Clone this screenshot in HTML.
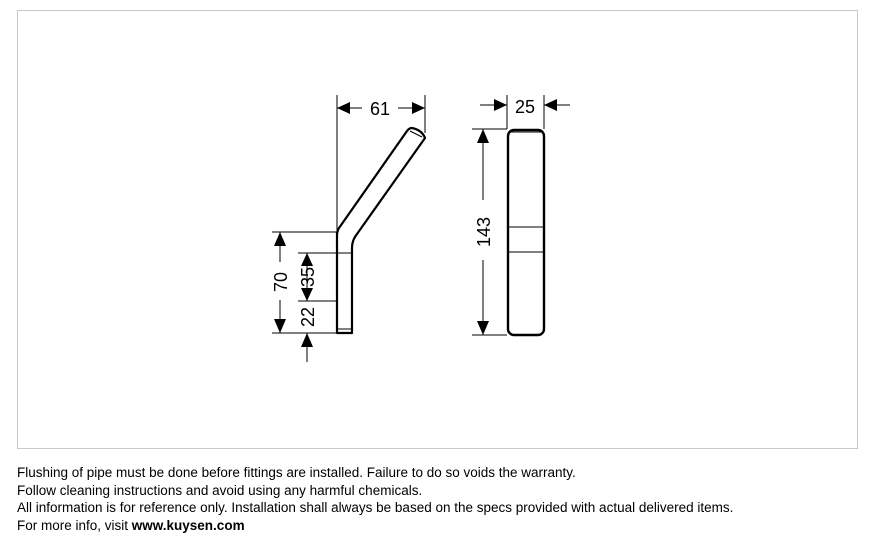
<!DOCTYPE html>
<html><head><style>
body{margin:0;background:#fff;width:869px;height:538px;overflow:hidden;position:relative;font-family:"Liberation Sans",sans-serif}
.t{position:absolute;left:17px;font-size:13.5px;color:#000;white-space:nowrap}
</style></head><body>
<svg width="869" height="538" style="position:absolute;left:0;top:0">
<rect x="17.5" y="10.5" width="840" height="438" fill="none" stroke="#c8c8c8" stroke-width="1"/>
<g stroke="#000" fill="none" stroke-width="1">
<line x1="337" y1="95" x2="337" y2="232"/>
<line x1="425" y1="95" x2="425" y2="133"/>
<line x1="337" y1="108" x2="362" y2="108"/>
<line x1="398" y1="108" x2="425" y2="108"/>
<line x1="272" y1="232" x2="337" y2="232"/>
<line x1="272" y1="333" x2="337" y2="333"/>
<line x1="298" y1="253" x2="337" y2="253"/>
<line x1="298" y1="301" x2="337" y2="301"/>
<line x1="280" y1="232" x2="280" y2="262"/>
<line x1="280" y1="300" x2="280" y2="333"/>
<line x1="307" y1="333" x2="307" y2="362"/>
<line x1="307" y1="253" x2="307" y2="301"/>
<line x1="507" y1="95" x2="507" y2="129"/>
<line x1="544" y1="95" x2="544" y2="129"/>
<line x1="480" y1="105" x2="507" y2="105"/>
<line x1="544" y1="105" x2="570" y2="105"/>
<line x1="472" y1="129" x2="507" y2="129"/>
<line x1="472" y1="335" x2="507" y2="335"/>
<line x1="483" y1="129" x2="483" y2="200"/>
<line x1="483" y1="260" x2="483" y2="335"/>
</g>
<g fill="#000">
<polygon points="337,108 350,102 350,114"/>
<polygon points="425,108 412,102 412,114"/>
<polygon points="280,232 274,246 286,246"/>
<polygon points="280,333 274,319 286,319"/>
<polygon points="307,333 301,347 313,347"/>
<polygon points="307,253 301,266 313,266"/>
<polygon points="307,301 301,288 313,288"/>
<polygon points="507,105 494,99 494,111"/>
<polygon points="544,105 557,99 557,111"/>
<polygon points="483,129 477,143 489,143"/>
<polygon points="483,335 477,321 489,321"/>
</g>
<g stroke="#000" fill="none" stroke-width="2.2" stroke-linejoin="round">
<path d="M337,232 L337,333 L352,333 L352,248 Q352,240 357,234 L425,138 Q422,130 412,128 Q409,128 407,131 L339,228 Q337,231 337,236"/>
</g>
<g stroke="#000" fill="none" stroke-width="1">
<line x1="337" y1="253" x2="352" y2="253"/>
<line x1="338" y1="329" x2="351" y2="329"/>
<line x1="410" y1="131" x2="422" y2="137"/>
<line x1="508" y1="227" x2="543" y2="227"/>
<line x1="508" y1="252" x2="543" y2="252"/>
<line x1="510" y1="132" x2="541" y2="132"/>
</g>
<rect x="508" y="130" width="36" height="205" rx="6" fill="none" stroke="#000" stroke-width="2.4"/>
<g font-family="Liberation Sans,sans-serif" font-size="18" fill="#000">
<text x="380" y="115" text-anchor="middle">61</text>
<text x="525" y="113" text-anchor="middle">25</text>
<text transform="translate(287,282) rotate(-90)" text-anchor="middle">70</text>
<text transform="translate(314,277) rotate(-90)" text-anchor="middle">35</text>
<text transform="translate(314,317) rotate(-90)" text-anchor="middle">22</text>
<text transform="translate(490,232) rotate(-90)" text-anchor="middle">143</text>
</g>
</svg>
<div class="t" style="top:465px">Flushing of pipe must be done before fittings are installed. Failure to do so voids the warranty.</div>
<div class="t" style="top:483px">Follow cleaning instructions and avoid using any harmful chemicals.</div>
<div class="t" style="top:500px">All information is for reference only. Installation shall always be based on the specs provided with actual delivered items.</div>
<div class="t" style="top:518px">For more info, visit <b>www.kuysen.com</b></div>
</body></html>
